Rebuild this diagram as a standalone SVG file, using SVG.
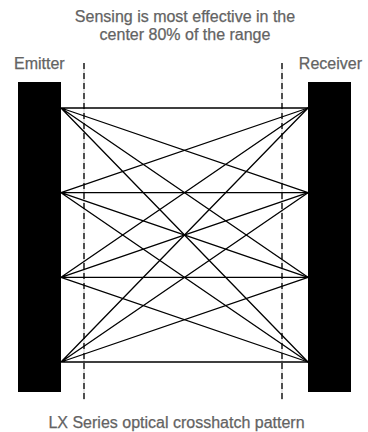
<svg xmlns="http://www.w3.org/2000/svg" width="368" height="432" viewBox="0 0 368 432">
<style>
.t{font-family:"Liberation Sans",Arial,sans-serif;font-size:16px;fill:#636363;stroke:#636363;stroke-width:0.25;}
.beam{stroke:#000;stroke-width:1.3;fill:none;}
.guide{stroke:#bbb;stroke-width:0.8;}
.dash{stroke:#000;stroke-width:1.3;stroke-dasharray:6 4;}
</style>
<rect width="368" height="432" fill="#fff"/>
<g id="title">
<text class="t" x="185" y="21.5" text-anchor="middle">Sensing is most effective in the</text>
<text class="t" x="185" y="39.5" text-anchor="middle">center 80% of the range</text>
</g>
<g id="emitter">
<text class="t" x="14" y="69">Emitter</text>
<rect x="18" y="82" width="43" height="310" fill="#000"/>
</g>
<g id="receiver">
<text class="t" x="362" y="69" text-anchor="end">Receiver</text>
<rect x="308" y="82" width="43" height="310" fill="#000"/>
</g>
<g id="range-limits">
<line class="guide" x1="84" y1="63" x2="84" y2="400"/>
<line class="dash" x1="84" y1="63" x2="84" y2="400"/>
<line class="guide" x1="282" y1="63" x2="282" y2="400"/>
<line class="dash" x1="282" y1="63" x2="282" y2="400"/>
</g>
<g id="connectors" class="beam">
<path d="M61 108L308 108M61 108L308 192.7M61 108L308 277.3M61 108L308 362"/>
<path d="M61 192.7L308 108M61 192.7L308 192.7M61 192.7L308 277.3M61 192.7L308 362"/>
<path d="M61 277.3L308 108M61 277.3L308 192.7M61 277.3L308 277.3M61 277.3L308 362"/>
<path d="M61 362L308 108M61 362L308 192.7M61 362L308 277.3M61 362L308 362"/>
</g>
<g id="caption">
<text class="t" x="176.5" y="427.5" text-anchor="middle">LX Series optical crosshatch pattern</text>
</g>
</svg>
